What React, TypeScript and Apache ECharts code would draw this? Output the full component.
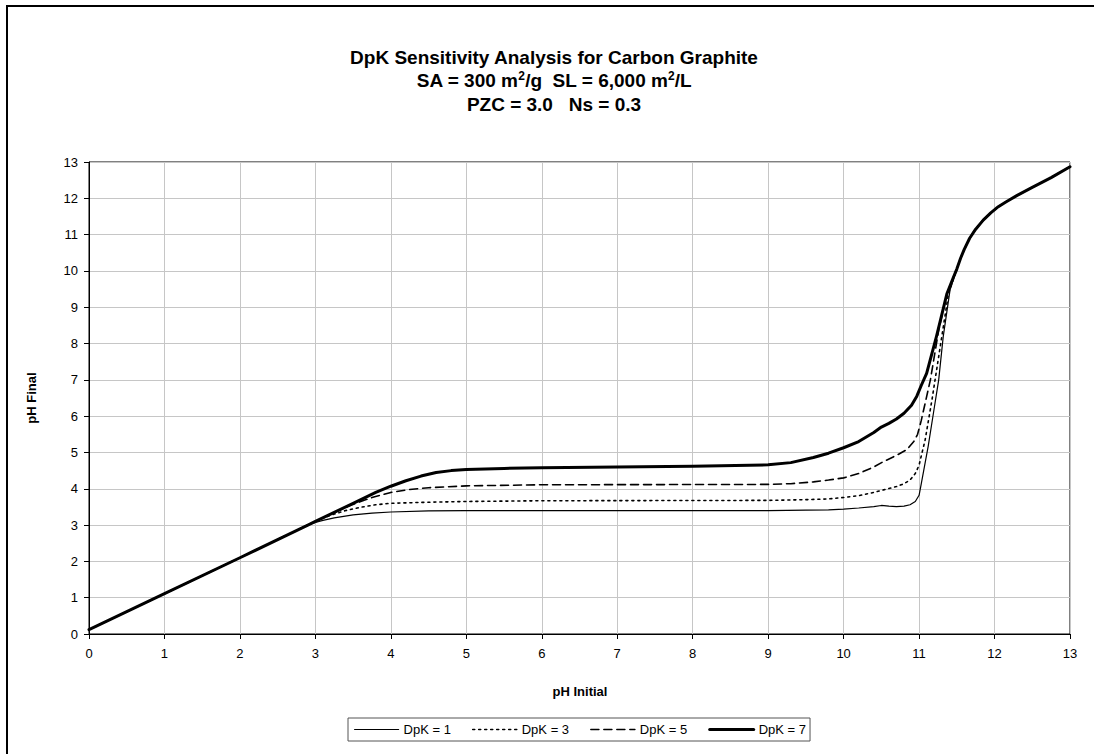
import React, { useEffect, useRef } from "react";
import * as echarts from "echarts";

const seriesNames = ["DpK = 1", "DpK = 3", "DpK = 5", "DpK = 7"];

const dpk1: number[][] = [
  [0, 0.12], [1, 1.11], [2, 2.1], [2.9, 3.0], [3.0, 3.07], [3.1, 3.13], [3.25, 3.2], [3.5, 3.28],
  [3.75, 3.33], [4, 3.36], [4.5, 3.39], [5, 3.4], [7, 3.4], [9, 3.4], [9.5, 3.41], [9.8, 3.42],
  [10, 3.44], [10.2, 3.47], [10.4, 3.51], [10.5, 3.54], [10.6, 3.52], [10.7, 3.51], [10.8, 3.52],
  [10.88, 3.56], [10.95, 3.65], [11.0, 3.82], [11.03, 4.15], [11.12, 5.16], [11.19, 6.08],
  [11.26, 7.0], [11.32, 8.19], [11.41, 9.47], [11.5, 10.05], [11.55, 10.35], [11.6, 10.6],
  [11.67, 10.9], [11.75, 11.15], [11.85, 11.4], [11.95, 11.6], [12.05, 11.77], [12.15, 11.9],
  [12.3, 12.08], [12.5, 12.3], [12.75, 12.57], [13, 12.87],
];

const dpk3: number[][] = [
  [0, 0.12], [1, 1.11], [2, 2.1], [2.9, 3.0], [3.0, 3.1], [3.1, 3.19], [3.2, 3.27], [3.4, 3.4],
  [3.6, 3.49], [3.8, 3.56], [4, 3.6], [4.5, 3.63], [5, 3.65], [6, 3.67], [9, 3.68], [9.5, 3.7],
  [9.8, 3.72], [10, 3.76], [10.2, 3.81], [10.4, 3.9], [10.53, 3.97], [10.7, 4.06], [10.8, 4.14],
  [10.88, 4.24], [10.95, 4.42], [11.0, 4.65], [11.04, 5.0], [11.08, 5.34], [11.17, 6.44],
  [11.28, 7.91], [11.39, 9.38], [11.5, 10.05], [11.55, 10.35], [11.6, 10.6], [11.67, 10.9],
  [11.75, 11.15], [11.85, 11.4], [11.95, 11.6], [12.05, 11.77], [12.15, 11.9], [12.3, 12.08],
  [12.5, 12.3], [12.75, 12.57], [13, 12.87],
];

const dpk5: number[][] = [
  [0, 0.12], [1, 1.11], [2, 2.1], [2.9, 3.0], [3.0, 3.1], [3.25, 3.35], [3.5, 3.57], [3.75, 3.76],
  [4, 3.9], [4.25, 3.98], [4.5, 4.03], [5, 4.08], [6, 4.11], [9, 4.12], [9.3, 4.14], [9.6, 4.19],
  [9.8, 4.24], [10, 4.3], [10.2, 4.42], [10.4, 4.6], [10.53, 4.75], [10.7, 4.92], [10.84, 5.08],
  [10.93, 5.3], [10.98, 5.5], [11.03, 5.89], [11.15, 7.0], [11.26, 8.37], [11.37, 9.38],
  [11.5, 10.05], [11.55, 10.35], [11.6, 10.6], [11.67, 10.9], [11.75, 11.15], [11.85, 11.4],
  [11.95, 11.6], [12.05, 11.77], [12.15, 11.9], [12.3, 12.08], [12.5, 12.3], [12.75, 12.57],
  [13, 12.87],
];

const dpk7: number[][] = [
  [0, 0.12], [1, 1.11], [2, 2.1], [2.9, 3.0], [3.0, 3.1], [3.5, 3.6], [3.8, 3.9], [4, 4.07],
  [4.2, 4.22], [4.4, 4.35], [4.6, 4.45], [4.8, 4.5], [5, 4.53], [5.5, 4.56], [6, 4.58], [7, 4.6],
  [8, 4.62], [9, 4.66], [9.3, 4.72], [9.6, 4.86], [9.8, 4.98], [10, 5.13], [10.2, 5.3],
  [10.4, 5.55], [10.5, 5.7], [10.6, 5.8], [10.7, 5.92], [10.8, 6.08], [10.9, 6.3], [10.97, 6.55],
  [11.03, 6.85], [11.1, 7.18], [11.23, 8.19], [11.37, 9.38], [11.45, 9.8], [11.5, 10.05],
  [11.55, 10.35], [11.6, 10.6], [11.67, 10.9], [11.75, 11.15], [11.85, 11.4], [11.95, 11.6],
  [12.05, 11.77], [12.15, 11.9], [12.3, 12.08], [12.5, 12.3], [12.75, 12.57], [13, 12.87],
];

const titleLines = [
  "DpK Sensitivity Analysis for Carbon Graphite",
  "SA = 300 m{sup|2}/g  SL = 6,000 m{sup|2}/L",
  "PZC = 3.0   Ns = 0.3",
];
const xAxisTitle = "pH Initial";
const yAxisTitle = "pH Final";

const FONT = "'Liberation Sans', Arial, sans-serif";

export default function App() {
  const ref = useRef<HTMLDivElement>(null);
  useEffect(() => {
    document.body.style.margin = "0";
    const chart = echarts.init(ref.current!, null, { renderer: "svg" });
    const dataSets = [dpk1, dpk3, dpk5, dpk7];
    const styles: any[] = [
      { width: 1.2, type: "solid" },
      { width: 1.6, type: [2, 4] },
      { width: 1.6, type: [8, 5] },
      { width: 3, type: "solid" },
    ];
    const titleStyle = { fontSize: 19, fontWeight: "bold", fontFamily: FONT, fill: "#000" };
    chart.setOption({
      animation: false,
      backgroundColor: "#fff",
      grid: {
        left: 89, top: 162, right: 24, bottom: 120, show: true,
        borderColor: "#000", borderWidth: 1, backgroundColor: "transparent",
      },
      xAxis: {
        type: "value", min: 0, max: 13, interval: 1,
        axisLine: { onZero: false, lineStyle: { color: "#000", width: 1 } },
        axisTick: { show: true, length: 5, lineStyle: { color: "#000" } },
        axisLabel: { color: "#000", fontSize: 13, fontFamily: FONT, margin: 13 },
        splitLine: { show: true, lineStyle: { color: "#c6c6c6", width: 1 } },
      },
      yAxis: {
        type: "value", min: 0, max: 13, interval: 1,
        axisLine: { show: true, onZero: false, lineStyle: { color: "#000", width: 1 } },
        axisTick: { show: true, length: 5, lineStyle: { color: "#000" } },
        axisLabel: { color: "#000", fontSize: 13, fontFamily: FONT, margin: 11 },
        splitLine: { show: true, lineStyle: { color: "#c6c6c6", width: 1 } },
      },
      legend: {
        left: 348, top: 718,
        padding: [5, 4, 5, 6],
        borderColor: "#555", borderWidth: 1,
        itemWidth: 44, itemHeight: 14, itemGap: 21,
        itemStyle: { opacity: 0 },
        textStyle: { color: "#000", fontSize: 13, fontFamily: FONT },
        data: seriesNames.map((n, i) => ({
          name: n,
          lineStyle: { color: "#000", width: styles[i].width, type: styles[i].type },
        })),
      },
      series: dataSets.map((d, i) => ({
        name: seriesNames[i],
        type: "line",
        data: d,
        symbol: "none",
        smooth: false,
        lineStyle: { color: "#000", join: "round", cap: "round", ...styles[i] },
        itemStyle: { color: "#000" },
        z: 3 + i,
      })),
      graphic: [
        {
          type: "rect", silent: true, z: 100,
          shape: { x: 7, y: 6, width: 1300, height: 1000 },
          style: { fill: "none", stroke: "#000", lineWidth: 2 },
        },
        {
          type: "text", x: 554, y: 57, z: 100,
          style: { ...titleStyle, text: titleLines[0], align: "center", verticalAlign: "middle" },
        },
        {
          type: "text", x: 554, y: 80, z: 100,
          style: {
            ...titleStyle, text: titleLines[1], align: "center", verticalAlign: "middle",
            rich: {
              sup: { fontSize: 12, fontWeight: "bold", fontFamily: FONT, verticalAlign: "top", padding: [0, 0, 9, 0] },
            },
          },
        },
        {
          type: "text", x: 554, y: 104, z: 100,
          style: { ...titleStyle, text: titleLines[2], align: "center", verticalAlign: "middle" },
        },
        {
          type: "text", x: 580, y: 691, z: 100,
          style: { text: xAxisTitle, fontSize: 13, fontWeight: "bold", fontFamily: FONT, fill: "#000", align: "center", verticalAlign: "middle" },
        },
        {
          type: "text", x: 31, y: 398, rotation: Math.PI / 2, z: 100,
          style: { text: yAxisTitle, fontSize: 13, fontWeight: "bold", fontFamily: FONT, fill: "#000", align: "center", verticalAlign: "middle" },
        },
      ],
    });
    return () => chart.dispose();
  }, []);
  return <div ref={ref} style={{ width: 1094, height: 754 }} />;
}
